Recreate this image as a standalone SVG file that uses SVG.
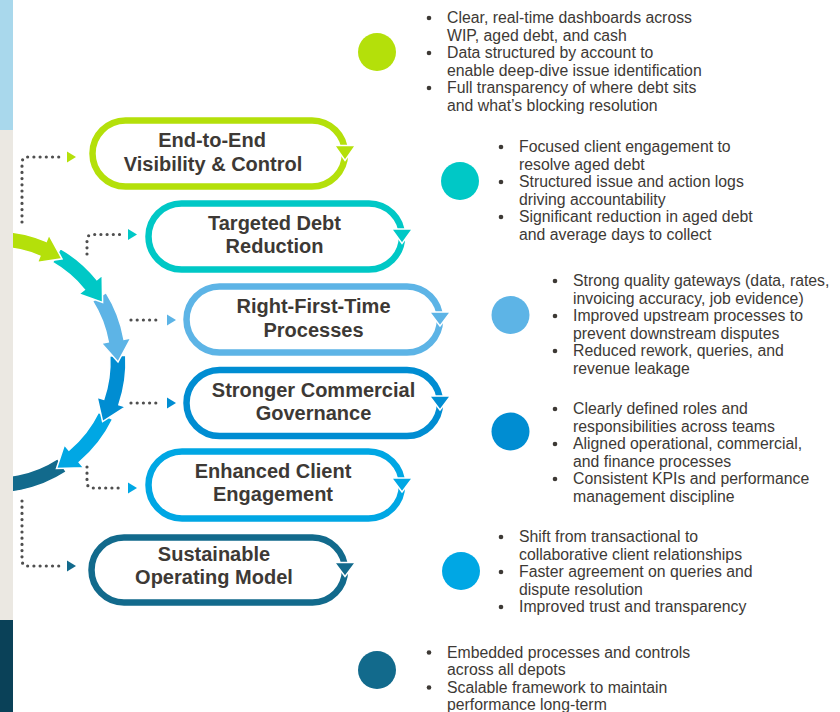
<svg xmlns="http://www.w3.org/2000/svg" width="840" height="712" viewBox="0 0 840 712">
<style>
.pill{fill:none;stroke-width:6.5}
.ah{stroke:#fff;stroke-width:1.5;stroke-linejoin:miter}
.seg{stroke:#fff;stroke-width:1.5;stroke-linejoin:miter}
.title{font-family:"Liberation Sans",Arial,sans-serif;font-weight:bold;font-size:20px;fill:#3D3935;text-anchor:middle}
.body{font-family:"Liberation Sans",Arial,sans-serif;font-size:15.8px;fill:#3D3935}
.dot{fill:#3D3935}
.conn{fill:none;stroke:#4F4F4F;stroke-width:3.2;stroke-linecap:round;stroke-dasharray:0 6.2}
</style>
<rect width="840" height="712" fill="#fff"/>

<g id="cycle">
<path class="seg" fill="#126A8C" d="M66.3 471.9 A131 131 0 0 1 -27.7 491.0 L-25.0 475.3 A115 115 0 0 0 57.6 458.5 Z"/>
<path class="seg" fill="#00A7E4" d="M112.7 419.4 A131 131 0 0 1 79.2 462.3 L83.7 467.7 L56.5 468.5 L64.4 444.7 L68.9 450.1 A115 115 0 0 0 98.4 412.4 Z"/>
<path class="seg" fill="#008DD2" d="M125.8 355.2 A131 131 0 0 1 118.9 404.7 L125.5 406.9 L102.6 421.6 L97.1 397.2 L103.7 399.4 A115 115 0 0 0 109.8 356.0 Z"/>
<path class="seg" fill="#5DB4E6" d="M106.1 292.6 A131 131 0 0 1 124.0 339.3 L130.9 338.0 L118 362 L101.4 343.3 L108.3 342.0 A115 115 0 0 0 92.5 301.1 Z"/>
<path class="seg" fill="#00C8C6" d="M60.5 248.5 A131 131 0 0 1 96.8 279.6 L102.2 275.2 L102.6 302.4 L78.9 294.0 L84.4 289.6 A115 115 0 0 0 52.5 262.4 Z"/>
<path class="seg" fill="#B4E00A" d="M-16.4 231.5 A131 131 0 0 1 46.2 241.4 L48.9 235.0 L62.0 258.8 L37.2 262.6 L39.9 256.1 A115 115 0 0 0 -15.0 247.4 Z"/>
</g>

<g id="stripe">
<rect x="0" y="0" width="13" height="130" fill="#A9D8EC"/>
<rect x="0" y="130" width="13" height="490" fill="#EBE8E2"/>
<rect x="0" y="620" width="13" height="92" fill="#0A4158"/>
</g>

<g id="connectors">
<path class="conn" d="M22 222 V163 Q22 157 28 157 H62"/>
<polygon fill="#B4E00A" points="67,151.5 76,157 67,162.5"/>
<path class="conn" d="M87 254 V240 Q87 234.5 93 234.5 H121"/>
<polygon fill="#00C8C6" points="128,229 137,234.5 128,240"/>
<path class="conn" d="M131 320 H161"/>
<polygon fill="#5DB4E6" points="167,314.5 176,320 167,325.5"/>
<path class="conn" d="M131 403 H161"/>
<polygon fill="#008DD2" points="167,397.5 176,403 167,408.5"/>
<path class="conn" d="M87 467 V482 Q87 488 93 488 H121"/>
<polygon fill="#00A7E4" points="128,482.5 137,488 128,493.5"/>
<path class="conn" d="M22 501 V560 Q22 566 28 566 H62"/>
<polygon fill="#126A8C" points="67,560.5 76,566 67,571.5"/>
</g>

<g id="pill1">
<rect class="pill" stroke="#B4E00A" x="92.5" y="120.5" width="252.5" height="66" rx="33"/>
<polygon class="ah" fill="#B4E00A" points="334.5,145.5 355.5,145.5 345,160.5"/>
<text class="title" x="212" y="147">End-to-End</text>
<text class="title" x="213" y="171">Visibility &amp; Control</text>
</g>
<g id="pill2">
<rect class="pill" stroke="#00C8C6" x="148.5" y="203.5" width="253.5" height="66" rx="33"/>
<polygon class="ah" fill="#00C8C6" points="391.5,229 412.5,229 402,243.5"/>
<text class="title" x="274.5" y="230">Targeted Debt</text>
<text class="title" x="274.5" y="253">Reduction</text>
</g>
<g id="pill3">
<rect class="pill" stroke="#5DB4E6" x="186.5" y="286.5" width="253.5" height="66" rx="33"/>
<polygon class="ah" fill="#5DB4E6" points="429.5,312 450.5,312 440,326"/>
<text class="title" x="313.5" y="313">Right-First-Time</text>
<text class="title" x="313.5" y="337">Processes</text>
</g>
<g id="pill4">
<rect class="pill" stroke="#008DD2" x="186.5" y="370" width="253.5" height="66" rx="33"/>
<polygon class="ah" fill="#008DD2" points="429.5,396 450.5,396 440,410"/>
<text class="title" x="313.5" y="397">Stronger Commercial</text>
<text class="title" x="313.5" y="420">Governance</text>
</g>
<g id="pill5">
<rect class="pill" stroke="#00A7E4" x="148.5" y="451.5" width="253.5" height="67" rx="33.5"/>
<polygon class="ah" fill="#00A7E4" points="391.5,478 412.5,478 402,492"/>
<text class="title" x="273" y="478">Enhanced Client</text>
<text class="title" x="273" y="501">Engagement</text>
</g>
<g id="pill6">
<rect class="pill" stroke="#126A8C" x="91.5" y="537.5" width="253.5" height="65" rx="32.5"/>
<polygon class="ah" fill="#126A8C" points="334.5,562.5 355.5,562.5 345,576.5"/>
<text class="title" x="214" y="561">Sustainable</text>
<text class="title" x="214" y="584">Operating Model</text>
</g>

<g id="detail1">
<circle cx="377" cy="52" r="19" fill="#B4E00A"/>
<circle class="dot" cx="429" cy="18" r="2.3"/><circle class="dot" cx="429" cy="53" r="2.3"/><circle class="dot" cx="429" cy="88" r="2.3"/>
<text class="body" x="447" y="23">Clear, real-time dashboards across</text>
<text class="body" x="447" y="40.5">WIP, aged debt, and cash</text>
<text class="body" x="447" y="58">Data structured by account to</text>
<text class="body" x="447" y="75.5">enable deep-dive issue identification</text>
<text class="body" x="447" y="93">Full transparency of where debt sits</text>
<text class="body" x="447" y="110.5">and what’s blocking resolution</text>
</g>
<g id="detail2">
<circle cx="460" cy="181" r="19" fill="#00C8C6"/>
<circle class="dot" cx="501" cy="147" r="2.3"/><circle class="dot" cx="501" cy="182" r="2.3"/><circle class="dot" cx="501" cy="217" r="2.3"/>
<text class="body" x="519" y="152">Focused client engagement to</text>
<text class="body" x="519" y="169.5">resolve aged debt</text>
<text class="body" x="519" y="187">Structured issue and action logs</text>
<text class="body" x="519" y="204.5">driving accountability</text>
<text class="body" x="519" y="222">Significant reduction in aged debt</text>
<text class="body" x="519" y="239.5">and average days to collect</text>
</g>
<g id="detail3">
<circle cx="510.5" cy="315" r="19" fill="#5DB4E6"/>
<circle class="dot" cx="555" cy="281" r="2.3"/><circle class="dot" cx="555" cy="316" r="2.3"/><circle class="dot" cx="555" cy="351" r="2.3"/>
<text class="body" x="573" y="286">Strong quality gateways (data, rates,</text>
<text class="body" x="573" y="303.5">invoicing accuracy, job evidence)</text>
<text class="body" x="573" y="321">Improved upstream processes to</text>
<text class="body" x="573" y="338.5">prevent downstream disputes</text>
<text class="body" x="573" y="356">Reduced rework, queries, and</text>
<text class="body" x="573" y="373.5">revenue leakage</text>
</g>
<g id="detail4">
<circle cx="510.5" cy="431.5" r="19" fill="#008DD2"/>
<circle class="dot" cx="555" cy="409" r="2.3"/><circle class="dot" cx="555" cy="444" r="2.3"/><circle class="dot" cx="555" cy="479" r="2.3"/>
<text class="body" x="573" y="414">Clearly defined roles and</text>
<text class="body" x="573" y="431.5">responsibilities across teams</text>
<text class="body" x="573" y="449">Aligned operational, commercial,</text>
<text class="body" x="573" y="466.5">and finance processes</text>
<text class="body" x="573" y="484">Consistent KPIs and performance</text>
<text class="body" x="573" y="501.5">management discipline</text>
</g>
<g id="detail5">
<circle cx="461" cy="571" r="19" fill="#00A7E4"/>
<circle class="dot" cx="501" cy="537" r="2.3"/><circle class="dot" cx="501" cy="572" r="2.3"/><circle class="dot" cx="501" cy="607" r="2.3"/>
<text class="body" x="519" y="542">Shift from transactional to</text>
<text class="body" x="519" y="559.5">collaborative client relationships</text>
<text class="body" x="519" y="577">Faster agreement on queries and</text>
<text class="body" x="519" y="594.5">dispute resolution</text>
<text class="body" x="519" y="612">Improved trust and transparency</text>
</g>
<g id="detail6">
<circle cx="377" cy="670" r="19" fill="#126A8C"/>
<circle class="dot" cx="429" cy="652.5" r="2.3"/><circle class="dot" cx="429" cy="687.5" r="2.3"/>
<text class="body" x="447" y="657.5">Embedded processes and controls</text>
<text class="body" x="447" y="675">across all depots</text>
<text class="body" x="447" y="692.5">Scalable framework to maintain</text>
<text class="body" x="447" y="710">performance long-term</text>
</g>
</svg>
